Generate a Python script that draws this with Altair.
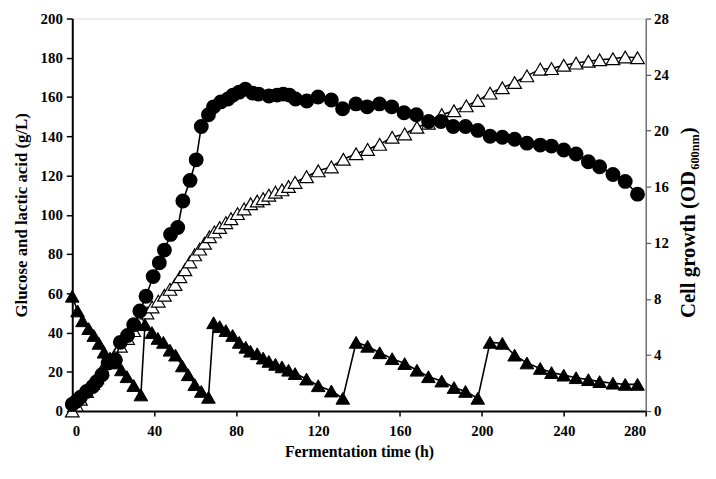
import altair as alt
import pandas as pd

# ---------------- data ----------------
# Cell growth, OD600nm (right axis)
time_od = [0, 2, 4, 7, 10, 12, 14.5, 17.5, 21, 23.5, 27, 30, 33, 36, 39.5, 42.5, 45, 48,
           51.5, 54, 57.5, 60.5, 63, 66.5, 69, 72.5, 76, 78.5, 81.5, 84.5, 88, 91, 96,
           100, 103, 106, 109, 114.5, 120, 126.5, 132, 138.5, 144, 150, 156, 162, 168,
           174, 180, 186, 192, 198, 204, 210, 216, 222, 228.5, 234, 240, 246, 252,
           257.5, 264, 270, 276]
od = [0.49, 0.70, 0.98, 1.40, 1.75, 2.10, 2.59, 3.43, 3.64, 4.90, 5.39, 6.16, 7.14, 8.19,
      9.59, 10.57, 11.48, 12.60, 13.09, 14.98, 16.45, 17.92, 20.30, 21.14, 21.70, 22.05,
      22.26, 22.54, 22.75, 22.96, 22.68, 22.61, 22.47, 22.54, 22.61, 22.54, 22.26, 22.12,
      22.40, 22.19, 21.56, 21.91, 21.70, 21.91, 21.70, 21.28, 21.14, 20.65, 20.65, 20.30,
      20.30, 20.02, 19.60, 19.53, 19.39, 19.11, 18.97, 18.90, 18.62, 18.34, 17.78, 17.43,
      16.87, 16.38, 15.47]

# Glucose, g/L (left axis)
time_glc = [0, 2.6, 5, 8, 10.5, 13, 15.5, 18.5, 21, 24, 26.7, 30, 33.5,
            35.5, 38.9, 41.8, 44.5, 47.7, 50.4, 53.7, 56.6, 59.8, 63, 66.5,
            69, 72, 75, 78.3, 81.5, 84.7, 87, 90.3, 93.2, 96, 99.2, 102.4, 105.6,
            108.8, 114.4, 120.1, 126.5, 132.1,
            138.6, 144.2, 150.1, 156.2, 162.3, 168.3, 173.9, 180.4, 186.4, 192, 198,
            204, 210, 216, 222, 228.5, 234, 240, 246, 252, 257.5, 264, 270, 276]
glucose = [58.5, 51, 46, 42, 38.5, 34.5, 30, 27, 24.5, 21, 17.5, 13, 8.2,
           44, 40, 37, 35, 31, 28.5, 23, 18.5, 13.5, 10, 7,
           45, 43, 41, 38.5, 35, 32.5, 30.5, 29.2, 27, 25.3, 23.8, 22.5, 20.8,
           19.1, 16.3, 12.9, 10.2, 6.5,
           35, 33, 29.7, 26.7, 24.2, 20.8, 17.5, 15.3, 12, 10, 6.5,
           35, 34.5, 28.5, 24.5, 21.7, 19.6, 18.3, 17, 16, 15, 14.2, 13.6, 13.6]

# Lactic acid, g/L (left axis)
time_la = [0, 2, 4, 7, 10, 12, 14.5, 17.5, 21, 23.5, 27, 30, 33, 36.5, 39, 42, 45, 47.7,
           50.2, 52.6, 55, 57.4, 59.8, 62.2, 64.6, 67, 69.4, 72, 75, 77.5, 80.7, 83.9,
           87.1, 90.3, 93.2, 96, 99.2, 102.4, 105.6, 108.8, 114.4, 120.1, 126.5, 132.4,
           138.6, 144.2, 150.1, 156.2, 162.3, 168.3, 173.9, 180.4, 186.4, 192.4, 198,
           204, 210, 216, 222, 228.5, 234, 240, 246, 252, 257.5, 264, 270, 276]
lactic = [0, 3, 6, 10, 14, 17, 21, 25, 29, 33, 37, 41, 46, 50, 53, 56, 59, 62,
          64.5, 68.4, 72, 76, 79.6, 82.5, 85.5, 88.8, 91.3, 93.5, 96, 98, 100.6, 103,
          105.6, 107, 108.2, 110, 111.5, 112.7, 114.4, 116.5, 119.4, 122.4, 124.4, 128.3,
          131.1, 133.3, 135.9, 139.5, 141.2, 144.6, 146.7, 151, 153, 155.5, 158.2,
          162, 164.7, 167.4, 170.8, 174.2, 174.5, 176.2, 177.3, 178.2, 179, 179.5, 180.4, 180]

x_ticks = [0, 40, 80, 120, 160, 200, 240, 280]
left_ticks = [0, 20, 40, 60, 80, 100, 120, 140, 160, 180, 200]
right_ticks = [0, 4, 8, 12, 16, 20, 24, 28]

x_title = "Fermentation time (h)"
left_title = "Glucose and lactic acid (g/L)"
right_title_main = "Cell growth (OD"
right_title_sub = "600nm"
right_title_end = ")"

FONT = "Liberation Serif"

df_od = pd.DataFrame({"t": time_od, "v": od})
df_glc = pd.DataFrame({"t": time_glc, "v": glucose})
df_la = pd.DataFrame({"t": time_la, "v": lactic})

x_axis = alt.Axis(values=x_ticks, title=x_title, grid=False, labelOverlap=False,
                  domainColor="black", domainWidth=2, tickColor="black",
                  tickWidth=1.5, tickSize=5, labelFont=FONT, labelFontSize=15,
                  labelFontWeight="bold", labelColor="black", labelPadding=8,
                  titleFont=FONT, titleFontSize=16, titleFontWeight="bold",
                  titleColor="black", titlePadding=5)
left_axis = alt.Axis(values=left_ticks, title=left_title, grid=False, orient="left",
                     labelOverlap=False, tickCount=11,
                     domainColor="black", domainWidth=2, tickColor="black",
                     tickWidth=1.5, tickSize=6, labelFont=FONT, labelFontSize=15,
                     labelFontWeight="bold", labelColor="black", labelPadding=4,
                     titleFont=FONT, titleFontSize=17, titleFontWeight="bold",
                     titleColor="black", titlePadding=10)
right_axis = alt.Axis(values=right_ticks, title=None, grid=False, orient="right",
                      labelOverlap=False,
                      domainColor="#555555", domainWidth=1.2, tickColor="#555555",
                      tickWidth=1.2, tickSize=5, labelFont=FONT, labelFontSize=15,
                      labelFontWeight="bold", labelColor="black", labelPadding=3)


def xe():
    return alt.X("t:Q", scale=alt.Scale(domain=[0, 280], nice=False), axis=x_axis)


def yl():
    return alt.Y("v:Q", scale=alt.Scale(domain=[0, 200], nice=False), axis=left_axis)


def yr():
    return alt.Y("v:Q", scale=alt.Scale(domain=[0, 28], nice=False), axis=right_axis)


line_style = dict(color="black", strokeWidth=1.6)

lac_line = alt.Chart(df_la).mark_line(**line_style).encode(x=xe(), y=yl())
lac_pts = alt.Chart(df_la).mark_point(shape="triangle-up", filled=True, fill="white",
                                      stroke="black", strokeWidth=1.2, size=190,
                                      opacity=1).encode(x=xe(), y=yl())
glc_line = alt.Chart(df_glc).mark_line(**line_style).encode(x=xe(), y=yl())
glc_pts = alt.Chart(df_glc).mark_point(shape="triangle-up", filled=True, fill="black",
                                       stroke="black", strokeWidth=1, size=190,
                                       opacity=1).encode(x=xe(), y=yl())
left_layer = alt.layer(lac_line, lac_pts, glc_line, glc_pts)

od_line = alt.Chart(df_od).mark_line(**line_style).encode(x=xe(), y=yr())
od_pts = alt.Chart(df_od).mark_point(shape="circle", filled=True, fill="black",
                                     stroke="black", size=170,
                                     opacity=1).encode(x=xe(), y=yr())
right_layer = alt.layer(od_line, od_pts)

one = pd.DataFrame({"a": [0]})
title_style = dict(font=FONT, fontWeight="bold", color="black", angle=270,
                   align="left", baseline="alphabetic")
t_main = alt.Chart(one).mark_text(fontSize=21, **title_style).encode(
    x=alt.value(630), y=alt.value(303), text=alt.value(right_title_main))
t_sub = alt.Chart(one).mark_text(fontSize=12.5, **title_style).encode(
    x=alt.value(634), y=alt.value(153), text=alt.value(right_title_sub))
t_end = alt.Chart(one).mark_text(fontSize=21, **title_style).encode(
    x=alt.value(630), y=alt.value(117), text=alt.value(right_title_end))

chart = alt.layer(left_layer, right_layer, t_main, t_sub, t_end).resolve_scale(
    y="independent"
).properties(
    width=580, height=397,
    autosize=alt.AutoSizeParams(type="none"),
    padding={"left": 65, "top": 8, "right": 63, "bottom": 58},
).configure_view(stroke=None).configure(background="white")

chart.save("out.html", embed_options={"renderer": "svg", "actions": False})
